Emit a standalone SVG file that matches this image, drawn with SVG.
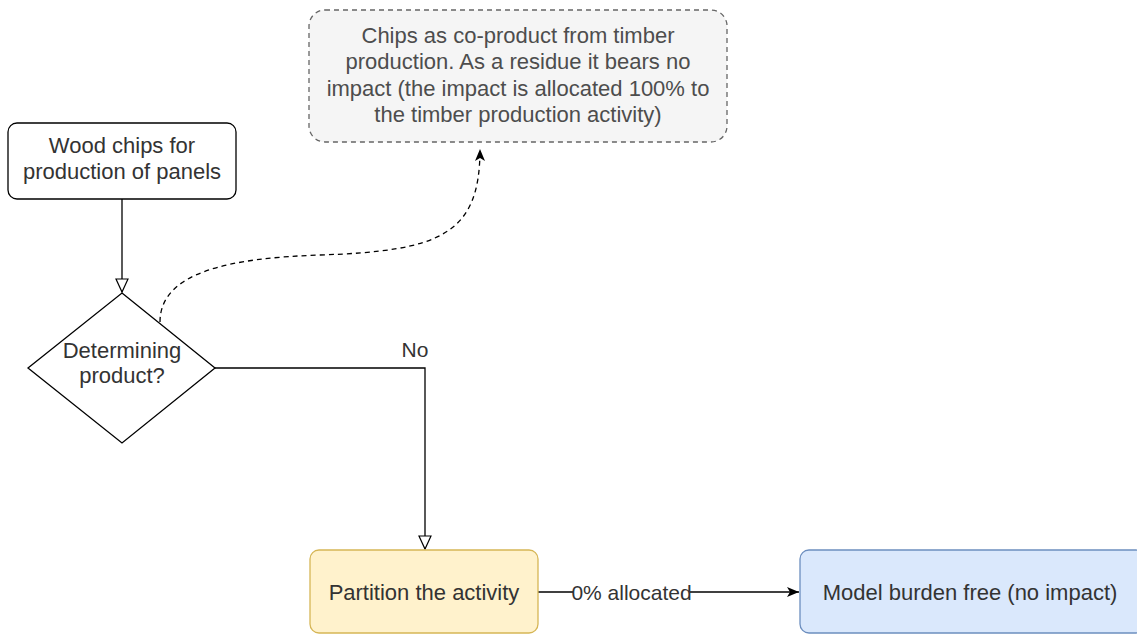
<svg xmlns="http://www.w3.org/2000/svg" width="1137" height="634" viewBox="0 0 1137 634">
<style>
text{font-family:"Liberation Sans",Arial,sans-serif;font-size:22px;fill:#333;text-anchor:middle}
.note text{fill:#4d4d4d}
.edge{fill:none;stroke:#000;stroke-width:1.3}
</style>
<defs>
<marker id="open" markerWidth="16" markerHeight="14" refX="14" refY="7" orient="auto" markerUnits="userSpaceOnUse">
<path d="M1,1 L14,7 L1,13 Z" fill="#fff" stroke="#000" stroke-width="1.2"/>
</marker>
<marker id="solid" markerWidth="14" markerHeight="12" refX="12" refY="6" orient="auto" markerUnits="userSpaceOnUse">
<path d="M0,1 L12,6 L0,11 L3,6 Z" fill="#000"/>
</marker>
</defs>
<rect width="1137" height="634" fill="#fff"/>
<g id="connectors">
<path class="edge" d="M122,199 L122,292" marker-end="url(#open)"/>
<path class="edge" d="M215,368 L425,368 L425,549" marker-end="url(#open)"/>
<path class="edge" d="M538,592 L799,592" marker-end="url(#solid)"/>
<path class="edge" stroke-dasharray="5,4" d="M160,322 C160,272 230,258 320,255 C440,251 480,235 480,149" marker-end="url(#solid)"/>
<text x="415" y="357" style="font-size:21px">No</text>
<rect x="573" y="582" width="117" height="20" fill="#fff"/>
<text x="631.5" y="600" style="font-size:21px">0% allocated</text>
</g>
<g id="note" class="note">
<rect x="309" y="10" width="418" height="132" rx="16" fill="#f5f5f5" stroke="#666" stroke-width="1.3" stroke-dasharray="5,4"/>
<text x="518" y="43">Chips as co-product from timber</text>
<text x="518" y="69">production. As a residue it bears no</text>
<text x="518" y="96">impact (the impact is allocated 100% to</text>
<text x="518" y="122">the timber production activity)</text>
</g>
<g id="wood">
<rect x="8" y="123" width="228" height="76" rx="9" fill="#fff" stroke="#000" stroke-width="1.3"/>
<text x="122" y="153">Wood chips for</text>
<text x="122" y="179">production of panels</text>
</g>
<g id="decision">
<path d="M122,293 L215,368 L122,443 L28,368 Z" fill="#fff" stroke="#000" stroke-width="1.3"/>
<text x="122" y="358">Determining</text>
<text x="122" y="383">product?</text>
</g>
<g id="partition">
<rect x="310" y="550" width="228" height="83" rx="9" fill="#fff2cc" stroke="#d6b656" stroke-width="1.3"/>
<text x="424" y="600">Partition the activity</text>
</g>
<g id="model">
<rect x="800" y="550" width="345" height="83" rx="9" fill="#dae8fc" stroke="#6c8ebf" stroke-width="1.3"/>
<text x="970" y="600">Model burden free (no impact)</text>
</g>
</svg>
